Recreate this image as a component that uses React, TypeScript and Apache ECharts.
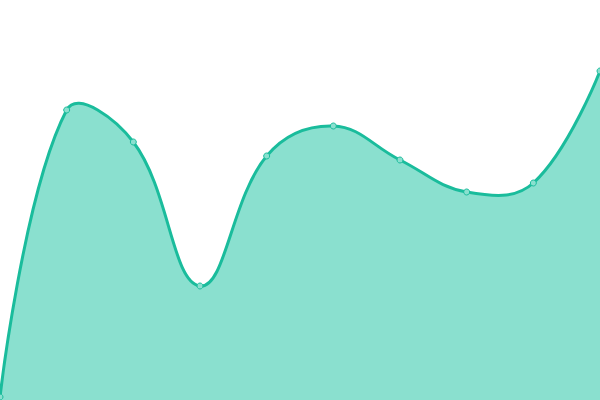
import { useEffect, useRef } from "react";
import * as echarts from "echarts";

const categories = ["1", "2", "3", "4", "5", "6", "7", "8", "9", "10"];
const values = [3, 290, 258, 114, 244, 274, 240, 208, 217, 329];

const SMOOTH = 0.4;

// older-style smoothing (no per-segment clamp), so the curve may overshoot the points
function buildCurve(pts: number[][]) {
  const minX = Math.min(...pts.map((p) => p[0]));
  const maxX = Math.max(...pts.map((p) => p[0]));
  const minY = Math.min(...pts.map((p) => p[1]));
  const maxY = Math.max(...pts.map((p) => p[1]));
  const clamp = (p: number[]) => [
    Math.min(maxX, Math.max(minX, p[0])),
    Math.min(maxY, Math.max(minY, p[1])),
  ];
  const n = pts.length;
  const cpIn: number[][] = [];
  const cpOut: number[][] = [];
  for (let i = 0; i < n; i++) {
    const p = pts[i];
    if (i === 0 || i === n - 1) {
      cpIn[i] = p;
      cpOut[i] = p;
      continue;
    }
    const prev = pts[i - 1];
    const next = pts[i + 1];
    const vx = next[0] - prev[0];
    const vy = next[1] - prev[1];
    const lp = Math.hypot(p[0] - prev[0], p[1] - prev[1]);
    const ln = Math.hypot(next[0] - p[0], next[1] - p[1]);
    const r = ln / (ln + lp);
    cpIn[i] = clamp([p[0] - vx * SMOOTH * (1 - r), p[1] - vy * SMOOTH * (1 - r)]);
    cpOut[i] = clamp([p[0] + vx * SMOOTH * r, p[1] + vy * SMOOTH * r]);
  }
  let d = `M${pts[0][0]},${pts[0][1]}`;
  for (let i = 1; i < n; i++) {
    const a = cpOut[i - 1];
    const b = cpIn[i];
    d += ` C${a[0]},${a[1]} ${b[0]},${b[1]} ${pts[i][0]},${pts[i][1]}`;
  }
  return d;
}

export default function App() {
  const ref = useRef<HTMLDivElement | null>(null);

  useEffect(() => {
    if (!ref.current) return;
    const chart = echarts.init(ref.current, undefined, { renderer: "svg" });
    chart.setOption({
      animation: false,
      grid: { left: 0, right: 0, top: 0, bottom: 0 },
      xAxis: { type: "category", data: categories, boundaryGap: false, show: false },
      yAxis: { type: "value", min: 0, max: 400, show: false },
      series: [
        {
          type: "custom",
          data: values,
          z: 1,
          renderItem: (params: any, api: any) => {
            if (params.dataIndex !== 0) return null;
            const pts = values.map((v, i) => api.coord([i, v]));
            const base = api.coord([0, 0])[1];
            const line = buildCurve(pts);
            const last = pts[pts.length - 1];
            const area = `${line} L${last[0]},${base} L${pts[0][0]},${base} Z`;
            return {
              type: "group",
              children: [
                { type: "path", shape: { pathData: area }, style: { fill: "#8ae0cf" } },
                {
                  type: "path",
                  shape: { pathData: line },
                  style: { fill: "none", stroke: "#1abc9c", lineWidth: 3 },
                },
              ],
            };
          },
        },
        {
          type: "line",
          data: values,
          z: 3,
          symbol: "circle",
          symbolSize: 6,
          lineStyle: { width: 0, opacity: 0 },
          itemStyle: { color: "#8ae0cf", borderColor: "#1abc9c", borderWidth: 1 },
        },
      ],
    });
    return () => chart.dispose();
  }, []);

  return (
    <div
      ref={ref}
      style={{ position: "absolute", left: 0, top: 0, width: 600, height: 400 }}
    />
  );
}
